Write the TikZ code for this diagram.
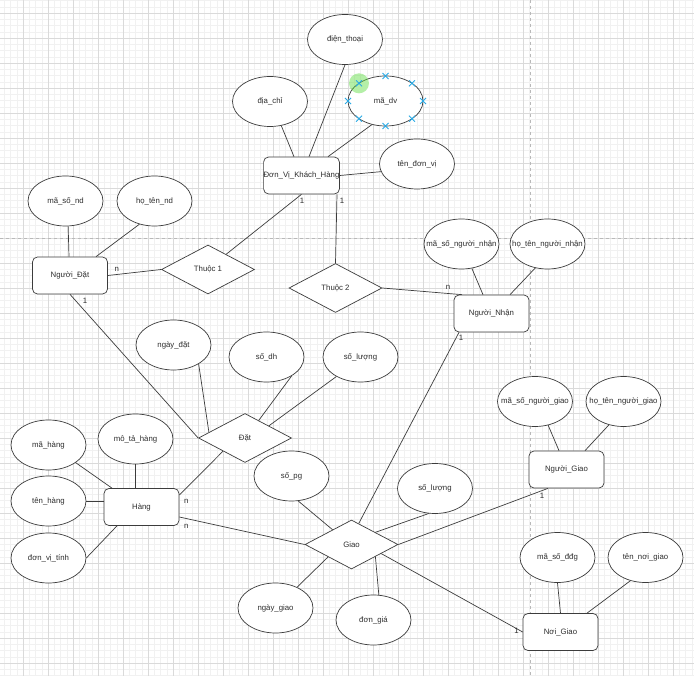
\documentclass[tikz,border=0pt]{standalone}
\usepackage{fontspec}
\setmainfont{Liberation Sans}
\usepackage{xcolor}
\usepackage{tikz}
\usetikzlibrary{shapes.geometric}

\definecolor{gridmajor}{RGB}{218,218,218}
\definecolor{gridminor}{RGB}{241,241,241}
\definecolor{pagebreak}{RGB}{185,185,185}
\definecolor{linegray}{RGB}{60,60,60}
\definecolor{textgray}{RGB}{45,45,45}
\definecolor{handleblue}{RGB}{41,170,230}
\definecolor{hovergreen}{RGB}{90,220,60}

\tikzset{
    entity/.style={draw=linegray, fill=white, rounded corners=5pt, minimum width=75pt, minimum height=37pt, inner sep=0pt, text=textgray, font=\fontsize{7.8}{9}\selectfont},
    attr/.style={ellipse, draw=linegray, fill=white, minimum width=75pt, minimum height=50pt, inner xsep=-14pt, inner ysep=0pt, text=textgray, font=\fontsize{7.8}{9}\selectfont},
    rel/.style={diamond, draw=linegray, fill=white, minimum width=93pt, minimum height=49pt, inner sep=0pt, text=textgray, font=\fontsize{7.8}{9}\selectfont},
    conn/.style={draw=linegray, line width=0.7pt},
    lbl/.style={inner sep=0pt, text=textgray, font=\fontsize{7.8}{9}\selectfont},
    handle/.style={draw=handleblue, line width=0.9pt}
}

\begin{document}
\begin{tikzpicture}[x=1pt, y=-1pt, line width=0.7pt]
        \useasboundingbox (0,0) rectangle (694,676);
        \fill[white] (0,0) rectangle (694,676);
        \foreach \i in {4.25,10.5,...,694} \draw[gridminor, line width=0.4pt] (\i,0) -- (\i,676);
        \foreach \j in {0.5,6.75,...,676} \draw[gridminor, line width=0.4pt] (0,\j) -- (694,\j);
        \foreach \i in {23,48,...,694} \draw[gridmajor, line width=0.5pt] (\i,0) -- (\i,676);
        \foreach \j in {13,38,...,676} \draw[gridmajor, line width=0.5pt] (0,\j) -- (694,\j);
        \draw[pagebreak, dashed, line width=0.6pt] (530,0) -- (530,676);
        \draw[pagebreak, dashed, line width=0.6pt] (0,238) -- (694,238);

        \node[attr] (dthoai) at (345,39.5) {điện\_thoại};
        \node[attr] (dchi) at (270,101.5) {địa\_chỉ};
        \node[attr] (madv) at (385.5,101) {mã\_dv};
        \node[attr] (tendv) at (417,164) {tên\_đơn\_vị};
        \node[entity] (dvkh) at (301.5,175.5) {Đơn\_Vị\_Khách\_Hàng};
        \node[attr] (msnd) at (65.5,201) {mã\_số\_nd};
        \node[attr] (htnd) at (154.5,201) {họ\_tên\_nd};
        \node[entity] (ndat) at (70,275.5) {Người\_Đặt};
        \node[rel] (thuoc1) at (208,269.5) {Thuộc 1};
        \node[rel] (thuoc2) at (335.5,288) {Thuộc 2};
        \node[attr] (msnn) at (461.5,244) {mã\_số\_người\_nhận};
        \node[attr] (htnn) at (547.5,244) {họ\_tên\_người\_nhận};
        \node[entity] (nnhan) at (491.5,313.5) {Người\_Nhận};
        \node[attr] (ngdat) at (173.5,345) {ngày\_đặt};
        \node[attr] (sodh) at (266.5,357) {số\_dh};
        \node[attr] (sldat) at (360.5,357) {số\_lượng};
        \node[rel] (dat) at (245,438) {Đặt};
        \node[attr] (mahang) at (48.5,445) {mã\_hàng};
        \node[attr] (mota) at (135.5,439) {mô\_tả\_hàng};
        \node[attr] (tenhang) at (48.5,501) {tên\_hàng};
        \node[attr] (dvt) at (48.5,558) {đơn\_vị\_tính};
        \node[entity] (hang) at (141.5,507) {Hàng};
        \node[attr] (sopg) at (291.5,476) {số\_pg};
        \node[attr] (slgiao) at (435,488.5) {số\_lượng};
        \node[rel] (giao) at (351.5,544.5) {Giao};
        \node[attr] (nggiao) at (275.5,608) {ngày\_giao};
        \node[attr] (dongia) at (373.5,620) {đơn\_giá};
        \node[attr] (msng) at (535,401.5) {mã\_số\_người\_giao};
        \node[attr] (htng) at (623.5,401.5) {họ\_tên\_người\_giao};
        \node[entity] (ngiao) at (566.5,469.5) {Người\_Giao};
        \node[attr] (msddg) at (557.5,557.5) {mã\_số\_đđg};
        \node[attr] (tennoi) at (645.5,557.5) {tên\_nơi\_giao};
        \node[entity] (noigiao) at (560.5,632) {Nơi\_Giao};

        \draw[conn] (dchi.-65) -- ([xshift=-7.5pt]dvkh.north);
        \draw[conn] (dthoai.south) -- ([xshift=7.5pt]dvkh.north);
        \draw[conn] (madv.-120) -- ([xshift=26.5pt]dvkh.north);
        \draw[conn] (tendv.192) -- (dvkh.east);
        \draw[conn] (dvkh.south) -- (thuoc1.40);
        \draw[conn] ([xshift=35.5pt]dvkh.south) -- (thuoc2.north);
        \draw[conn] (ndat.east) -- (thuoc1.west);
        \draw[conn] (msnd.-84) -- ([xshift=-1pt]ndat.north);
        \draw[conn] (htnd.-123) -- ([xshift=26pt]ndat.north);
        \draw[conn] (ndat.south) -- (dat.west);
        \draw[conn] (thuoc2.east) -- ([xshift=-29.5pt]nnhan.north);
        \draw[conn] (msnn.-67) -- ([xshift=-8.5pt]nnhan.north);
        \draw[conn] (htnn.-117) -- ([xshift=18.5pt]nnhan.north);
        \draw[conn] (giao.71) -- ([xshift=-32.5pt]nnhan.south);
        \draw[conn] (ngdat.-37) -- (dat.171);
        \draw[conn] (sodh.-37) -- (dat.52);
        \draw[conn] (sldat.-141) -- (dat.27);
        \draw[conn] (dat.-149) -- ([yshift=12pt]hang.east);
        \draw[conn] (mahang.-33) -- ([xshift=-29.5pt]hang.north);
        \draw[conn] (mota.south) -- (mota.south |- hang.north);
        \draw[conn] (tenhang.east) -- (tenhang.east -| hang.west);
        \draw[conn] (dvt.east) -- ([xshift=-24.5pt]hang.south);
        \draw[conn] ([yshift=-10pt]hang.east) -- (giao.west);
        \draw[conn] (sopg.-75) -- (giao.142);
        \draw[conn] (slgiao.-104) -- (giao.27);
        \draw[conn] (giao.east) -- ([xshift=-18.5pt]ngiao.south);
        \draw[conn] (giao.-17) -- (noigiao.west);
        \draw[conn] (nggiao.44) -- (giao.-152);
        \draw[conn] (dongia.78) -- (giao.-27);
        \draw[conn] (msng.-61) -- ([xshift=-7.5pt]ngiao.north);
        \draw[conn] (htng.-122) -- ([xshift=18.5pt]ngiao.north);
        \draw[conn] (msddg.south) -- (noigiao.north);
        \draw[conn] (tennoi.-123) -- ([xshift=26.5pt]noigiao.north);

        \node[lbl] (m1) at ([shift={(0.5,6.5)}]dvkh.south) {1};
        \node[lbl] (m2) at ([shift={(40.5,6.5)}]dvkh.south) {1};
        \node[lbl] (m3) at ([shift={(9,-6.5)}]ndat.east) {n};
        \node[lbl] (m4) at ([shift={(15,6)}]ndat.south) {1};
        \node[lbl] (m5) at ([shift={(-43.5,-7)}]nnhan.north) {n};
        \node[lbl] (m6) at ([shift={(-30.5,5.5)}]nnhan.south) {1};
        \node[lbl] (m7) at ([shift={(7,-6)}]hang.east) {n};
        \node[lbl] (m8) at ([shift={(7,19)}]hang.east) {n};
        \node[lbl] (m9) at ([shift={(-24.5,7)}]ngiao.south) {1};
        \node[lbl] (m10) at ([shift={(-6,-1)}]noigiao.west) {1};

        \fill[hovergreen, fill opacity=0.45] ([shift={(225:37.5 and 25)}]madv.center) circle (10);
        \foreach \a in {0,45,...,315}
            \draw[handle] ([shift={(\a:37.5 and 25)}]madv.center) +(-3,-3) -- +(3,3) +(-3,3) -- +(3,-3);
    \end{tikzpicture}
\end{document}
